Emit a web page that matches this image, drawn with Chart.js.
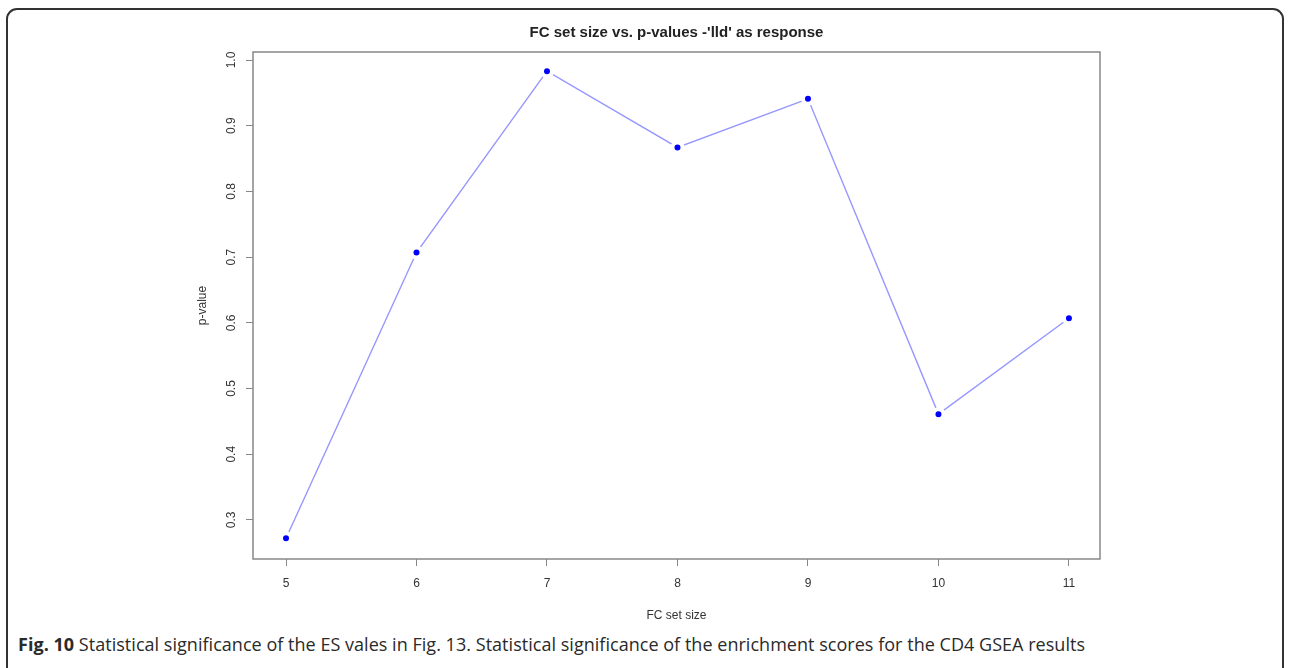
<!DOCTYPE html>
<html>
<head>
<meta charset="utf-8">
<script src="https://cdn.jsdelivr.net/npm/chart.js@4"></script>
<style>
  html, body { margin: 0; padding: 0; background: #fff; }
  body { width: 1289px; height: 668px; position: relative; overflow: hidden; }
  .frame {
    position: absolute; left: 6px; top: 8px; width: 1278px; height: 670px;
    border: 2px solid #333; border-radius: 11px; box-sizing: border-box;
  }
  #chart { position: absolute; left: 0; top: 0; }
  .caption {
    position: absolute; left: 18px; top: 632px;
    font-family: "Open Sans", sans-serif; font-size: 18px; color: #2a2a2a;
    white-space: nowrap; letter-spacing: 0.03px;
  }
  .caption b { font-weight: 700; }
</style>
</head>
<body>
<div class="frame"></div>
<canvas id="chart" width="1289" height="630"></canvas>
<div class="caption"><b>Fig. 10</b> Statistical significance of the ES vales in Fig. 13. Statistical significance of the enrichment scores for the CD4 GSEA results</div>
<script>
// FC set size (x) and p-value (y)
const setSizes = [5, 6, 7, 8, 9, 10, 11];
const pValues = [0.272, 0.707, 0.983, 0.867, 0.941, 0.461, 0.607];
const yTicks = [0.3, 0.4, 0.5, 0.6, 0.7, 0.8, 0.9, 1.0];

const axisGray = "#888";
const textGray = "#333";
const baseFont = "'Liberation Sans', Arial, sans-serif";

// R style box around the plot region
const boxPlugin = {
  id: "plotBox",
  afterDraw(chart) {
    const { ctx, chartArea: a } = chart;
    ctx.save();
    ctx.strokeStyle = axisGray;
    ctx.lineWidth = 1.5;
    ctx.strokeRect(a.left, a.top, a.right - a.left, a.bottom - a.top);
    ctx.restore();
  }
};

new Chart(document.getElementById("chart").getContext("2d"), {
  type: "line",
  data: {
    datasets: [{
      data: setSizes.map((x, i) => ({ x, y: pValues[i] })),
      borderColor: "rgba(80,80,255,0.6)",
      borderWidth: 1.4,
      pointRadius: 5,
      pointBorderWidth: 4,
      pointBackgroundColor: "#0000ff",
      pointBorderColor: "#ffffff",
      tension: 0
    }]
  },
  options: {
    responsive: false,
    animation: false,
    layout: { padding: { left: 190, right: 189, top: 0, bottom: 0 } },
    scales: {
      x: {
        type: "linear",
        min: 4.747,
        max: 11.238,
        afterBuildTicks: s => { s.ticks = setSizes.map(v => ({ value: v })); },
        afterFit: s => { s.height = 71; },
        border: { display: false },
        grid: { drawOnChartArea: false, drawTicks: true, tickLength: 7, color: axisGray, lineWidth: 1 },
        ticks: { color: textGray, padding: 10, font: { family: baseFont, size: 12 }, maxRotation: 0 },
        title: { display: true, text: "FC set size", color: textGray, padding: { top: 4, bottom: 7 }, font: { family: baseFont, size: 12 } }
      },
      y: {
        min: 0.2405,
        max: 1.0122,
        afterBuildTicks: s => { s.ticks = yTicks.map(v => ({ value: v })); },
        afterFit: s => { s.width = 63; },
        border: { display: false },
        grid: { drawOnChartArea: false, drawTicks: true, tickLength: 7, color: axisGray, lineWidth: 1 },
        ticks: {
          color: textGray, padding: 6, minRotation: 90, maxRotation: 90, crossAlign: "center",
          font: { family: baseFont, size: 12 },
          callback: v => Number(v).toFixed(1)
        },
        title: { display: true, text: "p-value", color: textGray, padding: { top: 5, bottom: 4 }, font: { family: baseFont, size: 12 } }
      }
    },
    plugins: {
      legend: { display: false },
      tooltip: { enabled: false },
      title: {
        display: true,
        fullSize: false,
        text: "FC set size vs. p-values -'lld' as response",
        color: "#222",
        font: { family: baseFont, size: 15, weight: "bold", lineHeight: 1.2 },
        padding: { top: 24, bottom: 10 }
      }
    }
  },
  plugins: [boxPlugin]
});
</script>
</body>
</html>
